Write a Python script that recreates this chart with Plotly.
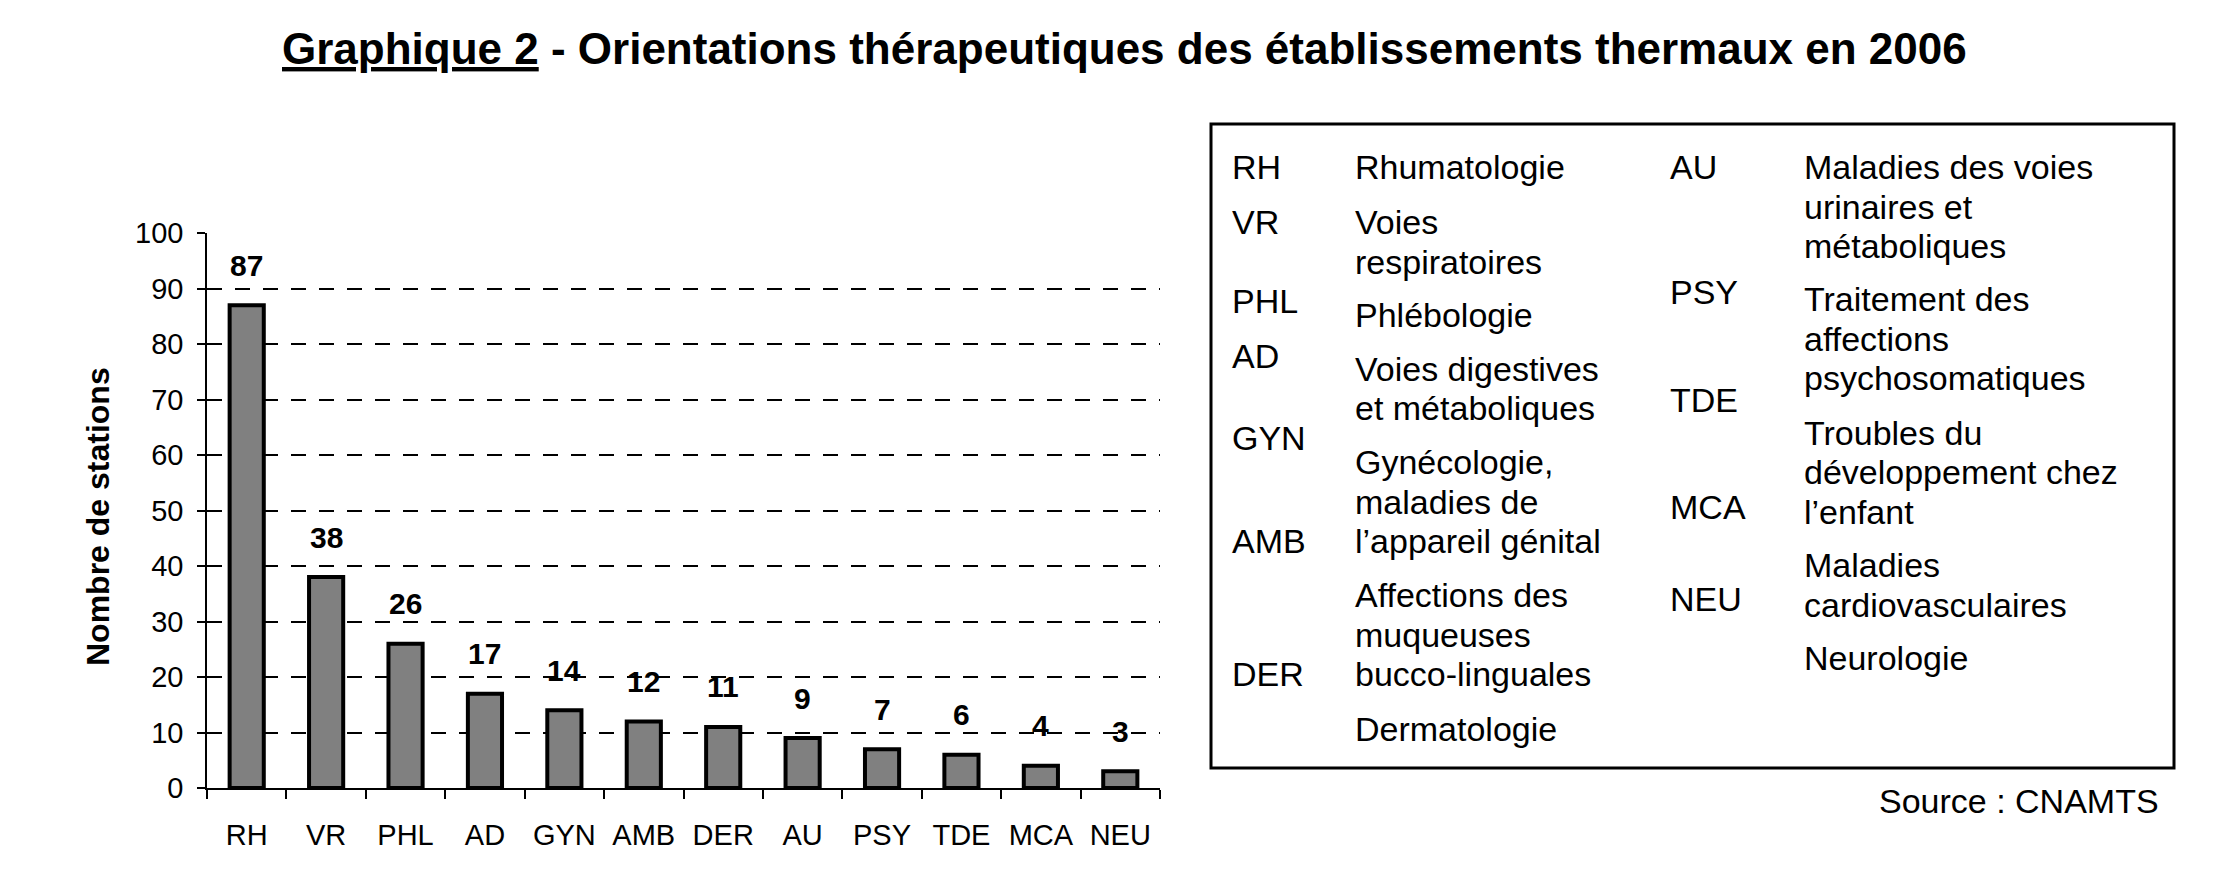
import plotly.graph_objects as go

W, H = 2214, 890

# ---- data ----
categories = ["RH", "VR", "PHL", "AD", "GYN", "AMB", "DER", "AU", "PSY", "TDE", "MCA", "NEU"]
stations = [87, 38, 26, 17, 14, 12, 11, 9, 7, 6, 4, 3]
y_ticks = [0, 10, 20, 30, 40, 50, 60, 70, 80, 90, 100]

title_main = "<u>Graphique 2</u> - Orientations thérapeutiques des établissements thermaux en 2006"
y_title = "Nombre de stations"
source_text = "Source : CNAMTS"

left_abbr = ["RH", "VR", "PHL", "AD", "GYN", "AMB", "DER"]
left_desc = ["Rhumatologie", "Voies", "respiratoires", "Phlébologie", "Voies digestives",
             "et métaboliques", "Gynécologie,", "maladies de", "l\u2019appareil génital",
             "Affections des", "muqueuses", "bucco-linguales", "Dermatologie"]
right_abbr = ["AU", "PSY", "TDE", "MCA", "NEU"]
right_desc = ["Maladies des voies", "urinaires et", "métaboliques", "Traitement des",
              "affections", "psychosomatiques", "Troubles du", "développement chez",
              "l\u2019enfant", "Maladies", "cardiovasculaires", "Neurologie"]

# ---- layout positions (pixels) ----
left_abbr_y = [159, 214, 293, 348, 430, 533, 666]
left_desc_y = [159, 214, 254, 307, 361, 400, 454, 494, 533, 587, 627, 666, 721]
right_abbr_y = [159, 284, 392, 499, 591]
right_desc_y = [159, 199, 238, 291, 331, 370, 425, 464, 504, 557, 597, 650]
col_x = [1222, 1345, 1660, 1794]

FONT = "Liberation Sans, Arial, sans-serif"
LEG_SIZE = 34


def px(x):
    return x / W


def py(y):
    return 1 - y / H


fig = go.Figure()
fig.add_trace(go.Bar(
    x=categories, y=stations,
    marker=dict(color="#808080", line=dict(color="black", width=4)),
    width=0.43, showlegend=False, hoverinfo="skip",
))

annotations = []
# value labels
for c, v in zip(categories, stations):
    annotations.append(dict(x=c, y=v, xref="x", yref="y", text="<b>%d</b>" % v,
                            showarrow=False, yanchor="middle", yshift=40,
                            font=dict(family=FONT, size=30, color="black")))
# title
annotations.append(dict(x=px(1116), y=py(40), xref="paper", yref="paper", text="<b>" + title_main + "</b>",
                        showarrow=False, xanchor="center", yanchor="middle",
                        font=dict(family=FONT, size=44, color="black")))
# y axis title
annotations.append(dict(x=px(90), y=py(509), xref="paper", yref="paper", text="<b>" + y_title + "</b>",
                        showarrow=False, textangle=-90, xanchor="center", yanchor="middle",
                        font=dict(family=FONT, size=32, color="black")))


def leg(txt, x, y, anchor="left"):
    annotations.append(dict(x=px(x), y=py(y), xref="paper", yref="paper", text=txt, showarrow=False,
                            xanchor=anchor, yanchor="middle",
                            font=dict(family=FONT, size=LEG_SIZE, color="black")))


for txt, yy in zip(left_abbr, left_abbr_y):
    leg(txt, col_x[0], yy)
for txt, yy in zip(left_desc, left_desc_y):
    leg(txt, col_x[1], yy)
for txt, yy in zip(right_abbr, right_abbr_y):
    leg(txt, col_x[2], yy)
for txt, yy in zip(right_desc, right_desc_y):
    leg(txt, col_x[3], yy)
leg(source_text, 2153, 793, anchor="right")

shapes = [dict(type="rect", xref="paper", yref="paper",
               x0=px(1203), x1=px(2166), y0=py(760), y1=py(116),
               line=dict(color="black", width=3), fillcolor="rgba(0,0,0,0)")]

fig.update_layout(
    width=W, height=H,
    margin=dict(l=0, r=0, t=0, b=0),
    paper_bgcolor="white", plot_bgcolor="white",
    bargap=0.57,
    annotations=annotations,
    shapes=shapes,
    xaxis=dict(
        domain=[px(199), px(1152)], automargin=False,
        showline=True, linecolor="black", linewidth=1.5,
        ticks="outside", tickson="boundaries", ticklen=9, tickcolor="black", tickwidth=1.5,
        ticklabelstandoff=20,
        tickfont=dict(family=FONT, size=29, color="black"),
        showgrid=False, zeroline=False, fixedrange=True,
    ),
    yaxis=dict(
        domain=[py(780), py(225)], automargin=False,
        range=[0, 100], tickvals=y_ticks,
        showline=True, linecolor="black", linewidth=1.5,
        ticks="outside", ticklen=8, tickcolor="black", tickwidth=1.5,
        ticklabelstandoff=8,
        tickfont=dict(family=FONT, size=29, color="black"),
        showgrid=True, gridcolor="black", gridwidth=1.5, griddash="15px,13px",
        zeroline=False, fixedrange=True,
    ),
)

fig.write_html("out.html")
